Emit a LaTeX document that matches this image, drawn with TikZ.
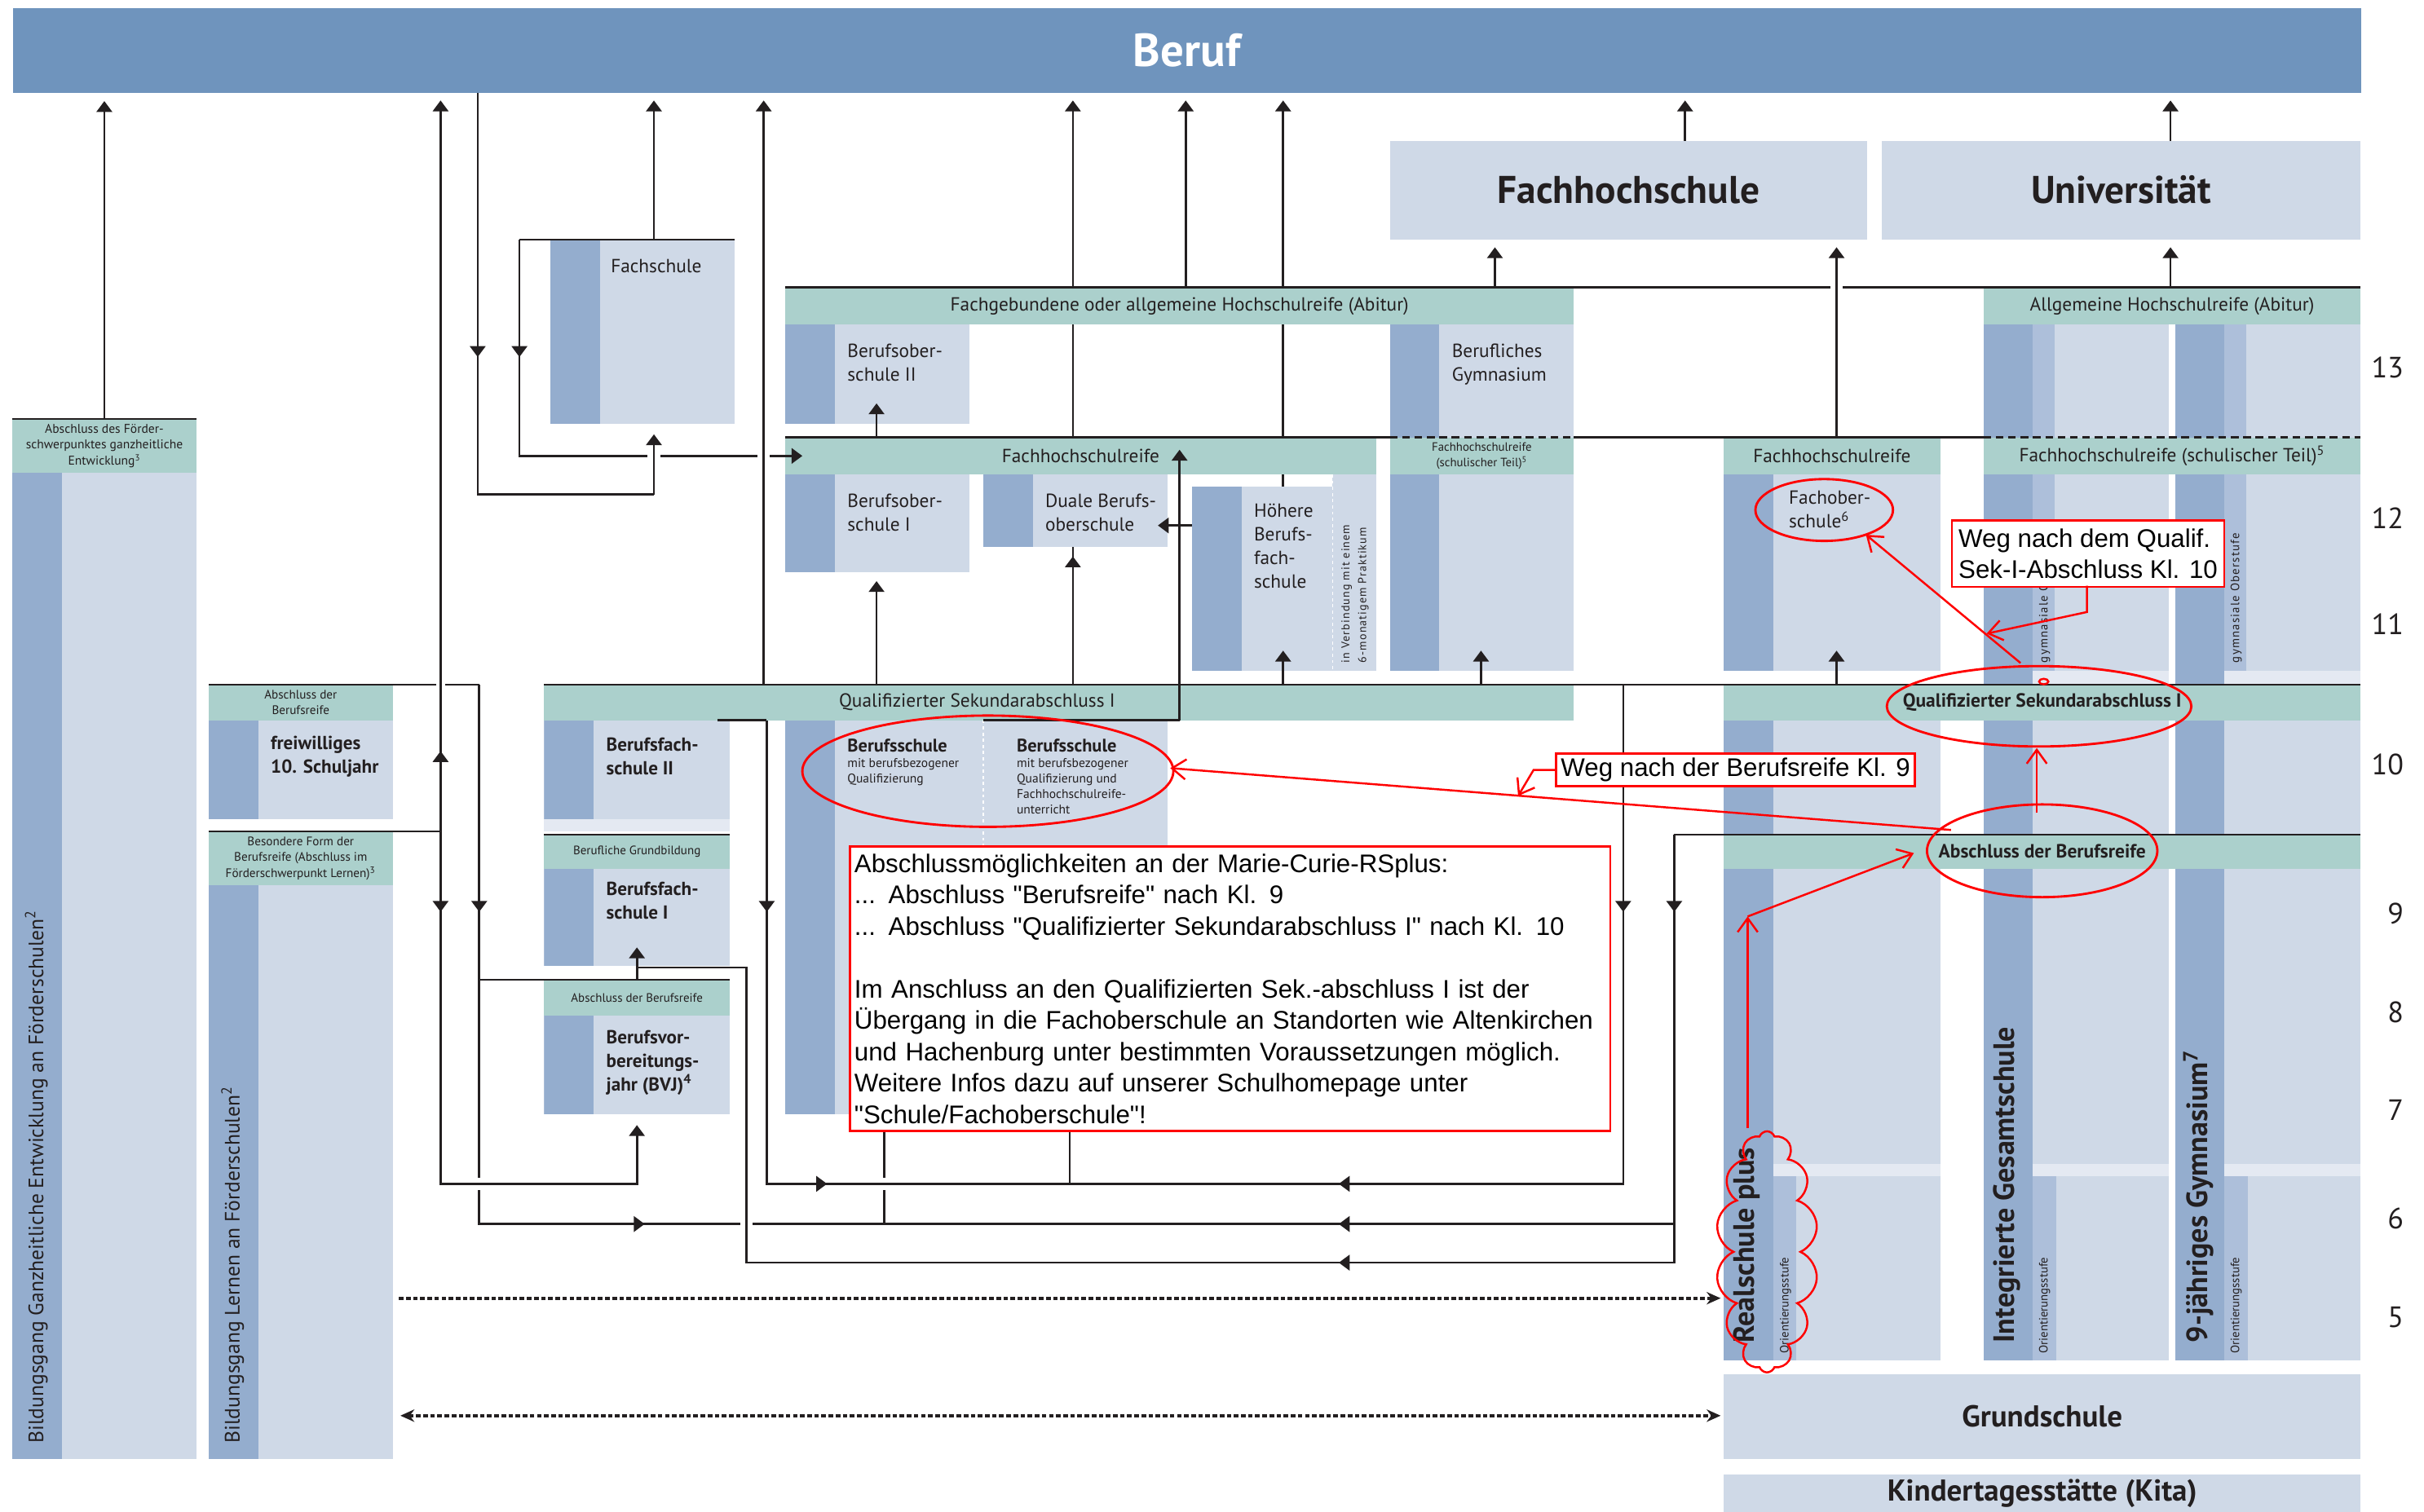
\documentclass[tikz,border=0pt]{standalone}
\usepackage{fontspec}
\setmainfont{PT Sans}
\newfontfamily\trackfont[LetterSpace=8]{PT Sans}
\newfontfamily\notefont{Liberation Sans}
\usetikzlibrary{arrows.meta,shapes.symbols,positioning}

\definecolor{berufblue}{HTML}{6F94BD}
\definecolor{boxlight}{HTML}{CFD9E7}
\definecolor{boxdark}{HTML}{94ADCE}
\definecolor{boxmid}{HTML}{ADBFDA}
\definecolor{boxpale}{HTML}{E4E9F2}
\definecolor{headteal}{HTML}{ABD0CC}
\definecolor{linegray}{HTML}{231F20}
\definecolor{notered}{HTML}{FF0000}

\pgfdeclarelayer{bg}
\pgfsetlayers{bg,main}

\newcommand\fsz[2]{\fontsize{#1}{#2}\selectfont}

\tikzset{
  conn/.style={draw=linegray, line width=1.4pt},
  tip/.style={-{Triangle[width=10pt,length=7pt]}},
  gap/.style={draw=white, line width=3pt},
  dashline/.style={draw=linegray, line width=2.2pt, dash pattern=on 3pt off 1.6pt},
  plainbox/.style={fill=boxlight, inner sep=0pt, outer sep=0pt, anchor=north west},
  schul/.style={plainbox, path picture={\fill[boxdark] (path picture bounding box.north west) rectangle ([xshift=32pt]path picture bounding box.south west);}},
  oberbox/.style={plainbox, path picture={
      \fill[boxdark] (path picture bounding box.north west) rectangle ([xshift=32pt]path picture bounding box.south west);
      \fill[boxmid] ([xshift=32pt]path picture bounding box.north west) rectangle ([xshift=46pt]path picture bounding box.south west);}},
  head/.style={fill=headteal, inner sep=0pt, outer sep=0pt, anchor=north west, align=center, text=linegray},
  lbl/.style={anchor=north west, inner sep=0pt, align=left, text=linegray, font=\fsz{12.3}{15.2}},
  boldlbl/.style={lbl, font=\bfseries\fsz{12.2}{15.2}},
  vlbl/.style={rotate=90, anchor=west, inner sep=0pt, text=linegray},
  grade/.style={anchor=east, inner sep=0pt, text=linegray, font=\fsz{19}{19}},
  note/.style={draw=notered, line width=1.4pt, fill=white, align=left, text=black, font=\notefont\fsz{16.5}{20.3}},
  redline/.style={draw=notered, line width=1.3pt},
  redtip/.style={-{Straight Barb[length=9pt,width=13pt]}}
}

\begin{document}
\begin{tikzpicture}[x=1pt,y=-1pt]
\useasboundingbox (0,0) rectangle (1568,978);

% top row
\node[fill=berufblue, inner sep=0pt, anchor=north west, minimum width=1519pt, minimum height=55pt, text=white, font=\bfseries\fsz{30}{30}] (beruf) at (8,5) {Beruf};
\node[plainbox, minimum width=309pt, minimum height=64pt, text=linegray, font=\bfseries\fsz{25}{25}] (fh) at (899,91) {Fachhochschule};
\node[plainbox, minimum width=310pt, minimum height=64pt, text=linegray, font=\bfseries\fsz{25}{25}] (uni) at (1217,91) {Universität};

% Foerderschulen
\node[head, minimum width=119pt, minimum height=35pt, font=\fsz{8.2}{10.3}] (ganzhead) at (8,271) {Abschluss des Förder-\\schwerpunktes ganzheitliche\\Entwicklung\textsuperscript{3}};
\node[schul, minimum width=119pt, minimum height=638pt] (ganz) at (8,306) {};
\node[vlbl, font=\fsz{13.5}{14}] (ganzT) at (23.5,934) {Bildungsgang Ganzheitliche Entwicklung an Förderschulen\textsuperscript{2}};

\node[head, minimum width=119pt, minimum height=23pt, font=\fsz{8}{10}] (reifehead1) at (135,443) {Abschluss der\\Berufsreife};
\node[schul, minimum width=119pt, minimum height=64pt] (frei) at (135,466) {};
\node[boldlbl, below right=10pt and 40pt of frei.north west] (freiT) {freiwilliges\\10. Schuljahr};
\node[head, minimum width=119pt, minimum height=35pt, font=\fsz{8}{10.3}] (formhead) at (135,538) {Besondere Form der\\Berufsreife (Abschluss im\\Förderschwerpunkt Lernen)\textsuperscript{3}};
\node[schul, minimum width=119pt, minimum height=371pt] (lern) at (135,573) {};
\node[vlbl, font=\fsz{13.5}{14}] (lernT) at (150.5,934) {Bildungsgang Lernen an Förderschulen\textsuperscript{2}};

% berufsbildende Schulen links
\node[schul, minimum width=119pt, minimum height=119pt] (fachschule) at (356,155) {};
\node[lbl, below right=12.5pt and 39pt of fachschule.north west] (fachschuleT) {Fachschule};

\node[schul, minimum width=120pt, minimum height=64pt] (bfs2) at (352,466) {};
\node[boldlbl, below right=11pt and 40pt of bfs2.north west] (bfs2T) {Berufsfach-\\schule II};
\fill[boxpale] (bfs2.south west) rectangle ++(120,8);
\node[head, minimum width=120pt, minimum height=22pt, font=\fsz{7.9}{9}] (grundbhead) at (352,540) {Berufliche Grundbildung};
\node[schul, minimum width=120pt, minimum height=63pt] (bfs1) at (352,562) {};
\node[boldlbl, below right=8.5pt and 40pt of bfs1.north west] (bfs1T) {Berufsfach-\\schule I};
\node[head, minimum width=120pt, minimum height=23pt, font=\fsz{7.9}{9}] (reifehead2) at (352,634) {Abschluss der Berufsreife};
\node[schul, minimum width=120pt, minimum height=64pt] (bvj) at (352,657) {};
\node[boldlbl, below right=9.5pt and 40pt of bvj.north west] (bvjT) {Berufsvor-\\bereitungs-\\jahr (BVJ)\textsuperscript{4}};

% Abitur und Fachhochschulreife, Mitte
\node[head, minimum width=510pt, minimum height=24pt, font=\fsz{12.3}{14}] (abifg) at (508,186) {Fachgebundene oder allgemeine Hochschulreife (Abitur)};
\node[schul, minimum width=119pt, minimum height=64pt] (bos2) at (508,210) {};
\node[lbl, below right=12.5pt and 40pt of bos2.north west] (bos2T) {Berufsober-\\schule II};
\node[schul, minimum width=119pt, minimum height=224pt] (bg) at (899,210) {};
\node[lbl, below right=12.5pt and 40pt of bg.north west] (bgT) {Berufliches\\Gymnasium};
\node[head, minimum width=119pt, minimum height=24pt, font=\fsz{7.8}{10}] (bgfhr) at (899,283) {Fachhochschulreife\\(schulischer Teil)\textsuperscript{5}};

\node[head, minimum width=382pt, minimum height=24pt, font=\fsz{12.3}{14}] (fhr) at (508,283) {Fachhochschulreife};
\node[schul, minimum width=119pt, minimum height=63pt] (bos1) at (508,307) {};
\node[lbl, below right=12.5pt and 40pt of bos1.north west] (bos1T) {Berufsober-\\schule I};
\node[schul, minimum width=119pt, minimum height=47pt] (dbos) at (636,307) {};
\node[lbl, below right=12.5pt and 40pt of dbos.north west] (dbosT) {Duale Berufs-\\oberschule};
\node[plainbox, minimum width=28pt, minimum height=127pt] (prakt) at (862,307) {};
\node[vlbl, align=left, font=\trackfont\fsz{7.4}{10.8}] (praktT) at (876.5,429) {in Verbindung mit einem\\6-monatigem Praktikum};
\node[schul, minimum width=91pt, minimum height=119pt] (hbfs) at (771,315) {};
\draw[white, line width=0.8pt, dash pattern=on 2pt off 2pt] (prakt.north west) -- (prakt.south west);
\node[lbl, below right=11pt and 40pt of hbfs.north west] (hbfsT) {Höhere\\Berufs-\\fach-\\schule};

% Berufsschule
\node[schul, minimum width=247pt, minimum height=255pt] (bs) at (508,466) {};
\draw[white, line width=0.8pt, dash pattern=on 2pt off 2pt] ([xshift=128pt]bs.north west) -- ([xshift=128pt]bs.south west);
\node[lbl, below right=12pt and 40pt of bs.north west, font=\fsz{8.2}{10}] (bsT1) {{\bfseries\fsz{11.8}{14}Berufsschule}\\mit berufsbezogener\\Qualifizierung};
\node[lbl, below right=12pt and 149.5pt of bs.north west, font=\fsz{8.2}{10}] (bsT2) {{\bfseries\fsz{11.8}{14}Berufsschule}\\mit berufsbezogener\\Qualifizierung und\\Fachhochschulreife-\\unterricht};

\node[head, minimum width=666pt, minimum height=23pt] (qualhead) at (352,443) {};
\node[inner sep=0pt, text=linegray, font=\fsz{12.3}{14}] (qualT) at (632,454.5) {Qualifizierter Sekundarabschluss I};

% rechte Seite
\node[head, minimum width=140pt, minimum height=24pt, font=\fsz{12.3}{14}] (fosfhr) at (1115,283) {Fachhochschulreife};
\node[schul, minimum width=140pt, minimum height=127pt] (fos) at (1115,307) {};
\node[lbl, below right=10.5pt and 42pt of fos.north west] (fosT) {Fachober-\\schule\textsuperscript{6}};

\node[oberbox, minimum width=120pt, minimum height=233pt] (igsober) at (1283,210) {};
\node[oberbox, minimum width=120pt, minimum height=233pt] (gymober) at (1407,210) {};
\fill[boxpale] ([xshift=32pt,yshift=9pt]igsober.south west) rectangle (igsober.south east);
\fill[boxpale] ([xshift=32pt,yshift=9pt]gymober.south west) rectangle (gymober.south east);
\node[head, minimum width=244pt, minimum height=24pt, font=\fsz{12.3}{14}] (ahr) at (1283,186) {Allgemeine Hochschulreife (Abitur)};
\node[head, minimum width=244pt, minimum height=24pt, font=\fsz{12.3}{14}] (ahrfhr) at (1283,283) {Fachhochschulreife (schulischer Teil)\textsuperscript{5}};
\node[vlbl, font=\trackfont\fsz{7.8}{8}] (oberT1) at (1322.5,429) {gymnasiale Oberstufe};
\node[vlbl, font=\trackfont\fsz{7.8}{8}] (oberT2) at (1446.5,429) {gymnasiale Oberstufe};

\node[schul, minimum width=140pt, minimum height=414pt] (rsplus) at (1115,466) {};
\node[schul, minimum width=120pt, minimum height=414pt] (igs) at (1283,466) {};
\node[schul, minimum width=120pt, minimum height=414pt] (gym) at (1407,466) {};
\foreach \c/\w in {rsplus/108, igs/88, gym/88} {
  \fill[boxpale] ([xshift=32pt,yshift=127pt]\c.south west) rectangle ++(\w,8);
  \fill[boxmid] ([xshift=32pt,yshift=119pt]\c.south west) rectangle ([xshift=47pt]\c.south west);
}
\node[head, minimum width=412pt, minimum height=23pt, font=\bfseries\fsz{12.4}{13}] (qualhead2) at (1115,443) {Qualifizierter Sekundarabschluss I};
\node[head, minimum width=412pt, minimum height=22pt, font=\bfseries\fsz{12.4}{13}] (reifehead3) at (1115,540) {Abschluss der Berufsreife};

\node[vlbl, font=\bfseries\fsz{19}{19}] (rsT) at (1130,869) {Realschule plus};
\node[vlbl, font=\bfseries\fsz{19}{19}] (igsT) at (1298,869) {Integrierte Gesamtschule};
\node[vlbl, font=\bfseries\fsz{19}{19}] (gymT) at (1422,869) {9-jähriges Gymnasium\textsuperscript{7}};
\foreach \x/\n in {1155/1, 1322.5/2, 1446.5/3}
  \node[vlbl, font=\fsz{7.8}{8}] (orient\n) at (\x,876) {Orientierungsstufe};

\node[plainbox, minimum width=412pt, minimum height=55pt, text=linegray, font=\bfseries\fsz{19.5}{19.5}] (grund) at (1115,889) {Grundschule};
\node[plainbox, minimum width=412pt, minimum height=25pt, text=linegray, font=\bfseries\fsz{19.5}{19.5}] (kita) at (1115,954) {Kindertagesstätte (Kita)};

\foreach \g/\y in {13/238, 12/335, 11/404, 10/494.5, 9/591, 8/655, 7/718.5, 6/788.5, 5/852.5}
  \node[grade] (grade\g) at (1555,\y) {\g};

% rules above the headers
\draw[conn] (ganzhead.north west) -- (ganzhead.north east);
\draw[conn] (reifehead1.north west) -- (310,443);
\draw[conn] (formhead.north west) -- (285,538);
\draw[conn] (grundbhead.north west) -- (grundbhead.north east);
\draw[conn] (310,634) -- (reifehead2.north east);
\draw[conn] (336,155) -- (fachschule.north east);
\draw[conn] (abifg.north west) -- (ahr.north east);
\draw[conn] (fhr.north west) -- (bgfhr.north west);
\draw[conn, dash pattern=on 5pt off 3pt] (bgfhr.north west) -- (bgfhr.north east);
\draw[conn] (bgfhr.north east) -- (ahrfhr.north west);
\draw[conn, dash pattern=on 5pt off 3pt] (ahrfhr.north west) -- (ahrfhr.north east);
\draw[conn] (qualhead.north west) -- (qualhead2.north east);
\draw[conn] (1083,540) -- (reifehead3.north east);
\draw[conn] (464,466) -- (496,466);
\draw[conn] ([xshift=128pt]bs.north west) -- (763,466);

% long lines behind the boxes
\begin{pgfonlayer}{bg}
\draw[conn, tip, shorten >=5pt] (694,443) -- (694,60);
\draw[conn, tip, shorten >=5pt] (830,443) -- (830,60);
\end{pgfonlayer}

% paths up to Beruf and the Hochschulen
\draw[conn, tip, shorten >=5pt] (ganzhead.north) -- (ganzhead.north |- beruf.south);
\draw[conn, tip, shorten >=5pt] (1090,91) -- (1090,60);
\draw[conn, tip, shorten >=5pt] (1404,91) -- (1404,60);
\draw[conn, tip, shorten >=5pt] (967,186) -- (967,155);
\draw[conn, tip, shorten >=5pt] (1404,186) -- (1404,155);
\draw[gap] (1184,186) -- (1192,186);
\draw[conn, tip, shorten >=5pt] (1188,283) -- (1188,155);
\draw[conn, tip, shorten >=5pt] (767,186) -- (767,60);
\draw[conn, tip, shorten >=5pt] (423,155) -- (423,60);

% arrows into the boxes
\draw[conn, tip] (1188,443) -- (1188,421);
\draw[conn, tip] (958,443) -- (958,421);
\draw[conn, tip] (830,443) -- (830,421);
\draw[conn, tip] (694,443) -- (694,360);
\draw[conn, tip] (567,443) -- (567,376);
\draw[conn, tip] (567,283) -- (567,261);
\draw[conn, tip] (763,466) -- (763,291);
\draw[conn, tip] (771,340) -- (749,340);

% Fachschule
\draw[conn, tip] (336,155) -- (336,295) -- (519,295);
\draw[conn] (309,60) -- (309,320) -- (423,320);
\draw[gap] (419,295) -- (427,295);
\draw[gap] (490,295) -- (498,295);
\draw[conn, tip] (423,320) -- (423,281);
\draw[conn, tip, shorten >=5pt] (494,443) -- (494,60);
\draw[conn, tip] (309,212) -- (309,231);
\draw[conn, tip] (336,212) -- (336,231);

% Berufsreife and the ways down
\draw[conn] (310,443) -- (310,792) -- (1083,792);
\draw[conn] (572,721) -- (572,792);
\draw[conn] (692,721) -- (692,766);
\draw[gap] (572,762) -- (572,770);
\draw[gap] (310,762) -- (310,770);
\draw[gap] (282,443) -- (288,443);
\draw[conn, tip, shorten >=5pt] (285,538) -- (285,60);
\draw[conn, tip, shorten >=7pt] (285,538) -- (285,766) -| (bvj.south);
\draw[conn] (1050,443) -- (1050,766) -- (496,766) -- (496,466);
\draw[gap] (479,792) -- (487,792);
\draw[conn] (1083,540) -- (1083,817) -- (483,817) -- (483,626) -- (412,626);
\draw[conn, tip] (reifehead2.north -| bfs1.south) -- ([yshift=12pt]bfs1.south);

% arrow marks on the lines
\draw[conn, tip] (285,502) -- (285,486);
\foreach \x in {285,310,496,1050,1083}
  \draw[conn, tip] (\x,575) -- (\x,590);
\draw[conn, tip] (400,792) -- (417,792);
\draw[conn, tip] (520,766) -- (535,766);
\foreach \y in {766,792,817}
  \draw[conn, tip] (882,\y) -- (866,\y);

% dashed ways
\draw[dashline, -{Stealth[width=8pt,length=9pt]}] (258,840) -- (1113,840);
\draw[dashline, {Stealth[width=8pt,length=9pt]}-{Stealth[width=8pt,length=9pt]}] (259,916) -- (1113,916);

% red notes
\draw[redline, line width=1.5pt] (639,499) ellipse [x radius=120pt, y radius=36pt];
\node[note, anchor=north west, text width=486pt, inner xsep=3pt, inner ysep=2pt, minimum height=184pt] (infobox) at (549,547) {Abschlussmöglichkeiten an der Marie-Curie-RSplus:\\... Abschluss "Berufsreife" nach Kl. 9\\... Abschluss "Qualifizierter Sekundarabschluss I" nach Kl. 10\\[20.3pt]Im Anschluss an den Qualifizierten Sek.-abschluss I ist der\\Übergang in die Fachoberschule an Standorten wie Altenkirchen\\und Hachenburg unter bestimmten Voraussetzungen möglich.\\Weitere Infos dazu auf unserer Schulhomepage unter\\"Schule/Fachoberschule"!};

\draw[redline, line width=1.5pt] (1180,330) ellipse [x radius=44.5pt, y radius=20pt];
\node[note, anchor=north west, inner xsep=2.5pt, inner ysep=1pt, minimum width=176pt, minimum height=43pt] (qualnote) at (1262,336) {Weg nach dem Qualif.\\Sek-I-Abschluss Kl. 10};
\draw[redline, redtip] (1350,379) -- (1350,396) -- (1285,410);
\draw[redline, redtip] (1307,429) -- (1207,346);
\draw[redline] (1322,441) ellipse [x radius=3pt, y radius=1.8pt];
\draw[redline, line width=1.5pt] (1319,457) ellipse [x radius=98.5pt, y radius=26pt];
\draw[redline, line width=1.5pt] (1321,550.5) ellipse [x radius=74.5pt, y radius=30pt];
\draw[redline, redtip] (1317.5,526) -- (1317.5,484);

\node[cloud, draw=notered, line width=1.3pt, cloud puffs=14, cloud puff arc=140, cloud ignores aspect, minimum width=66pt, minimum height=156pt, inner sep=0pt] (rscloud) at (1143,810) {};
\draw[redline, redtip] (1130.5,730) -- (1130.5,593);
\draw[redline, redtip] (1130.5,593) -- (1238,552);

\node[note, anchor=north west, inner xsep=3pt, inner ysep=0pt, minimum height=21pt] (reifenote) at (1006,487) {Weg nach der Berufsreife Kl. 9};
\draw[redline, redtip] (reifenote.west) -- ++(-14,0) -- (982,515);
\draw[redline, redtip] (1262,537) -- (757,497);
\end{tikzpicture}
\end{document}
